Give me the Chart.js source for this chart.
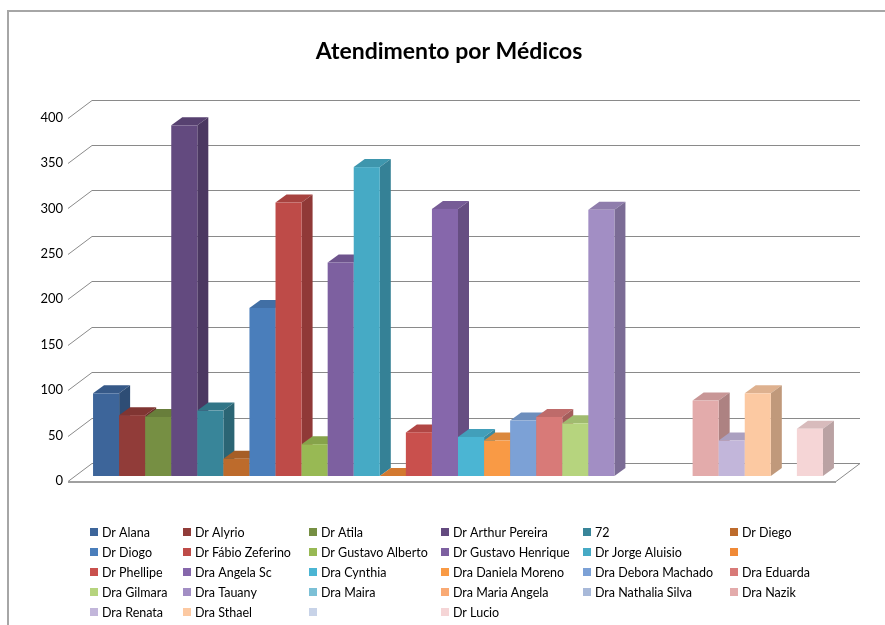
<!DOCTYPE html>
<html lang="pt-BR">
<head>
<meta charset="utf-8">
<title>Atendimento por Médicos</title>
<script src="https://cdn.jsdelivr.net/npm/chart.js@4.4.1/dist/chart.umd.min.js"></script>
<style>
  body { margin: 0; background: #fff; }
  #grafico { display: block; }
</style>
</head>
<body>
<canvas id="grafico" width="885" height="625"></canvas>
<script>
// Médicos na ordem da planilha (sem nome onde a célula estava vazia)
const medicos = [
    'Dr Alana', 'Dr Alyrio', 'Dr Atila', 'Dr Arthur Pereira', '72', 'Dr Diego',
    'Dr Diogo', 'Dr Fábio Zeferino', 'Dr Gustavo Alberto', 'Dr Gustavo Henrique', 'Dr Jorge Aluisio', '',
    'Dr Phellipe', 'Dra Angela Sc', 'Dra Cynthia', 'Dra Daniela Moreno', 'Dra Debora Machado', 'Dra Eduarda',
    'Dra Gilmara', 'Dra Tauany', 'Dra Maira', 'Dra Maria Angela', 'Dra Nathalia Silva', 'Dra Nazik',
    'Dra Renata', 'Dra Sthael', '', 'Dr Lucio'
];

// Total de atendimentos por médico (null = sem registro)
const atendimentos = [
    91, 67, 65, 386, 72, 19,
    185, 301, 35, 235, 340, 0,
    48, 294, 43, 39, 61, 65,
    58, 293, null, null, null, 83,
    39, 91, null, 52
];

const cores = [
    '#3d659a', '#913c39', '#768f43', '#634a7f', '#388599', '#bd6b2c',
    '#4a7ebb', '#be4b48', '#98b954', '#7d60a0', '#46aac5', '#f08a37',
    '#c9504d', '#8667ab', '#4bb5d3', '#f99a45', '#7ca1d6', '#d87a78',
    '#b6d47e', '#a28ec4', '#7cc0d6', '#f9aa74', '#a8b9d9', '#e3abab',
    '#c2b6da', '#fcc9a2', '#c8d3e8', '#f5d5d6'
];

const ticksY = { min: 0, max: 400, passo: 50 };

// profundidade das barras e do piso
const barraDx = 11, barraDy = -8;
const pisoDx = 24, pisoDy = -18;

function escurecer(hex, f) {
    const n = parseInt(hex.slice(1), 16);
    const r = Math.round(((n >> 16) & 255) * f);
    const g = Math.round(((n >> 8) & 255) * f);
    const b = Math.round((n & 255) * f);
    return `rgb(${r},${g},${b})`;
}

// Paredes, piso e barras em 3D
const cenario3d = {
    id: 'cenario3d',
    beforeDatasetsDraw(chart) {
        const { ctx, chartArea } = chart;
        const y = chart.scales.y;
        const esq = chartArea.left + 2;
        const dir = chartArea.right + 10;
        ctx.save();
        ctx.strokeStyle = '#8a8a8a';
        ctx.lineWidth = 1;
        y.ticks.forEach(t => {
            if (t.value === 0) return;
            const py = Math.round(y.getPixelForValue(t.value) + 5) + 0.5;
            ctx.beginPath();
            ctx.moveTo(esq, py);
            ctx.lineTo(esq + pisoDx, py + pisoDy);
            ctx.lineTo(dir, py + pisoDy);
            ctx.stroke();
        });
        // piso
        const p0 = Math.round(y.getPixelForValue(0) + 5) + 0.5;
        ctx.beginPath();
        ctx.moveTo(esq, p0);
        ctx.lineTo(esq + pisoDx, p0 + pisoDy);
        ctx.lineTo(dir, p0 + pisoDy);
        ctx.lineTo(dir - pisoDx, p0);
        ctx.closePath();
        ctx.fillStyle = '#fff';
        ctx.fill();
        ctx.stroke();
        ctx.strokeStyle = '#a0a0a0';
        ctx.lineWidth = 2;
        ctx.beginPath();
        ctx.moveTo(esq, p0 + 0.5);
        ctx.lineTo(dir - pisoDx, p0 + 0.5);
        ctx.stroke();
        ctx.restore();
    },
    beforeDatasetDraw() {
        return false;
    },
    afterDatasetsDraw(chart) {
        const ctx = chart.ctx;
        ctx.save();
        chart.data.datasets.forEach((ds, i) => {
            const el = chart.getDatasetMeta(i).data[0];
            if (!el || ds.data[0] === null) return;
            const { x, y, base, width } = el.getProps(['x', 'y', 'base', 'width'], true);
            const l = x - width / 2, r = x + width / 2;
            const cor = ds.backgroundColor;
            // topo
            ctx.fillStyle = escurecer(cor, 0.88);
            ctx.beginPath();
            ctx.moveTo(l, y);
            ctx.lineTo(l + barraDx, y + barraDy);
            ctx.lineTo(r + barraDx, y + barraDy);
            ctx.lineTo(r, y);
            ctx.closePath();
            ctx.fill();
            // lateral
            ctx.fillStyle = escurecer(cor, 0.76);
            ctx.beginPath();
            ctx.moveTo(r, y);
            ctx.lineTo(r + barraDx, y + barraDy);
            ctx.lineTo(r + barraDx, base + barraDy);
            ctx.lineTo(r, base);
            ctx.closePath();
            ctx.fill();
            // frente
            ctx.fillStyle = cor;
            ctx.fillRect(l, y, width, base - y);
        });
        ctx.restore();
    },
    afterDraw(chart) {
        const ctx = chart.ctx;
        ctx.save();
        // moldura do gráfico
        ctx.strokeStyle = '#a6a6a6';
        ctx.lineWidth = 2;
        ctx.strokeRect(8, 11, 900, 700);
        // legenda em colunas
        const colunas = [90, 183, 309, 441, 583, 730];
        ctx.font = '12.5px Lato';
        ctx.textBaseline = 'middle';
        chart.data.datasets.forEach((ds, i) => {
            const cx = colunas[i % 6];
            const cy = 532 + Math.floor(i / 6) * 20;
            ctx.fillStyle = ds.backgroundColor;
            ctx.fillRect(cx, cy - 4, 8, 8);
            ctx.fillStyle = '#000';
            ctx.fillText(ds.label, cx + 12, cy + 1);
        });
        ctx.restore();
    }
};

function carregarGrafico() {
    const ctx = document.getElementById('grafico').getContext('2d');
    new Chart(ctx, {
        type: 'bar',
        data: {
            labels: [''],
            datasets: medicos.map((nome, i) => ({
                label: nome,
                data: [atendimentos[i]],
                backgroundColor: cores[i]
            }))
        },
        options: {
            responsive: false,
            animation: false,
            categoryPercentage: 0.931,
            barPercentage: 1,
            // padding à esquerda centraliza o título sobre a área do gráfico
            layout: { padding: { left: 13, right: 0, top: 0, bottom: 149 } },
            scales: {
                x: { display: false },
                y: {
                    min: ticksY.min,
                    max: ticksY.max,
                    afterFit: s => { s.width = 53; },
                    border: { display: false },
                    grid: { display: false, drawTicks: false },
                    ticks: {
                        stepSize: ticksY.passo,
                        padding: 3,
                        labelOffset: 5,
                        color: '#000',
                        font: { family: 'Lato', size: 13 }
                    }
                },
                // eixo vazio só para reservar a margem direita
                margem: {
                    position: 'right',
                    afterFit: s => { s.width = 35; },
                    border: { display: false },
                    grid: { display: false, drawTicks: false },
                    ticks: { display: false }
                }
            },
            plugins: {
                legend: { display: false },
                tooltip: { enabled: false },
                title: {
                    display: true,
                    text: 'Atendimento por Médicos',
                    color: '#000',
                    font: { family: 'Lato', size: 23, weight: 'bold' },
                    padding: { top: 38, bottom: 47 }
                }
            }
        },
        plugins: [cenario3d]
    });
}

document.addEventListener('DOMContentLoaded', carregarGrafico);
</script>
</body>
</html>
